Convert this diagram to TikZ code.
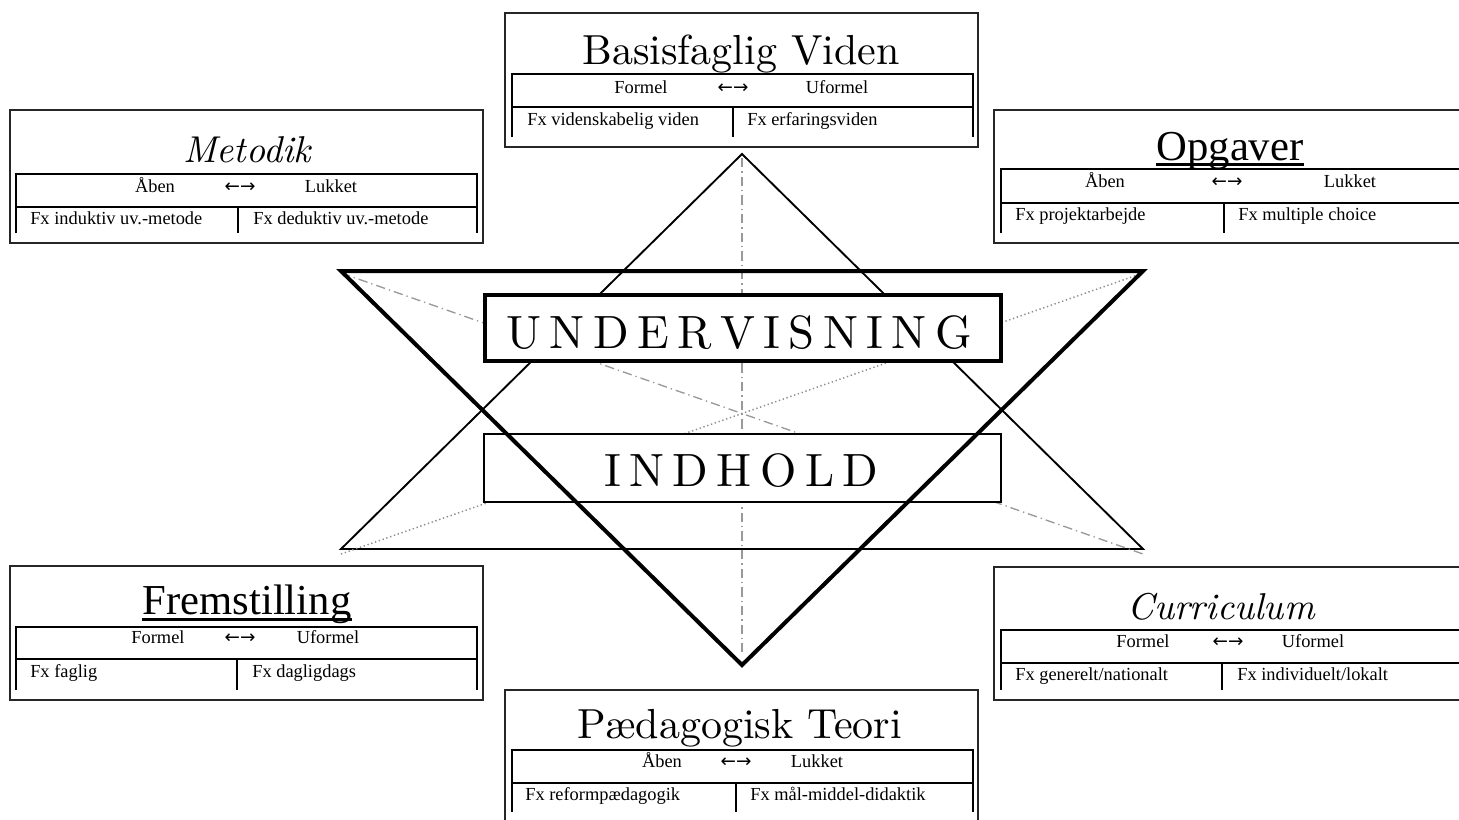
\documentclass[tikz,border=0pt]{standalone}
\usepackage{fontspec}
\newfontfamily\tnr{Liberation Serif}
\newfontfamily\arw{DejaVu Sans}
\newfontfamily\ttl[ItalicFont=lmroman10-italic.otf]{lmroman10-regular.otf}
\newcommand{\lsp}{\kern0.18em}
\usetikzlibrary{positioning}

\begin{document}
\begin{tikzpicture}[x=0.75pt,y=-0.75pt,
  frame/.style={draw=black!85,line width=1.1pt},
  tbl/.style={line width=1.5pt},
  head/.style={inner sep=0pt,anchor=base,font=\ttl\fontsize{31.5}{36}\selectfont},
  headit/.style={inner sep=0pt,anchor=base,font=\ttl\fontsize{28}{34}\selectfont\itshape},
  headtnr/.style={inner sep=0pt,anchor=base,font=\tnr\fontsize{32}{36}\selectfont},
  uline/.style={line width=1.8pt},
  cell/.style={inner sep=0pt,anchor=base,font=\tnr\fontsize{13.8}{15}\selectfont},
  arr/.style={inner sep=0pt,anchor=base,font=\arw\fontsize{13.8}{15}\selectfont},
  fx/.style={cell,anchor=base west},
  spaced/.style={inner sep=0pt,anchor=base west,font=\ttl\fontsize{35}{40}\selectfont},
  centerbox/.style={draw,fill=white,inner sep=0pt},
  dashdot/.style={draw=black!40,line width=1pt,dash pattern=on 7pt off 3pt on 1pt off 3pt},
  dotline/.style={draw=black!45,line width=1.1pt,dash pattern=on 1pt off 2pt},
]
\useasboundingbox (0,0) rectangle (1459,819);
\clip (0,0) rectangle (1459,819);

\coordinate (tl) at (341,271);
\coordinate (tr) at (1143,271);
\coordinate (bot) at (742,665);
\coordinate (top) at (742,154);
\coordinate (bl) at (341,549);
\coordinate (br) at (1143,549);
\coordinate (vt) at (742,158);
\coordinate (vb) at (742,652);
\coordinate (gtl) at (341,273);
\coordinate (gbr) at (1143,554);
\coordinate (gbl) at (341,554);
\coordinate (gtr) at (1143,273);

\draw[line width=1.4pt] (bl) -- (top) -- (br) -- cycle;
\draw[dashdot] (vt) -- (vb);
\draw[dashdot] (gtl) -- (gbr);
\draw[dotline] (gbl) -- (gtr);

\node[centerbox, line width=3pt, minimum width=387pt, minimum height=49.5pt] (undBox) at (743,328) {};
\node[spaced] (undT) at (506,348) {U\lsp N\lsp D\lsp E\lsp R\lsp V\lsp I\lsp S\lsp N\lsp I\lsp N\lsp G};
\node[centerbox, line width=1.5pt, minimum width=387.75pt, minimum height=51pt] (indBox) at (742.5,468) {};
\node[spaced] (indT) at (604,486) {I\lsp N\lsp D\lsp H\lsp O\lsp L\lsp D};

\draw[line width=3pt] (tl) -- (tr) -- (bot) -- cycle;

\draw[frame] (505,13) rectangle (978,147);
\node[head] (bvT) at (741,64) {Basisfaglig Viden};
\draw[tbl] (512,137) -- (512,74) -- (973,74) -- (973,137) (512,107) -- (973,107) (733,107) -- (733,137);
\node[cell] (bvA) at (641,93) {Formel};
\node[arr] (bvArr) at (733,93) {←→};
\node[cell] (bvB) at (837,93) {Uformel};
\node[fx] (bvC) at (527,125) {Fx videnskabelig viden};
\node[fx] (bvD) at (747,125) {Fx erfaringsviden};

\draw[frame] (10,110) rectangle (483,243);
\node[headit] (meT) at (247,162) {Metodik};
\draw[tbl] (16,233) -- (16,174) -- (477,174) -- (477,233) (16,207) -- (477,207) (238,207) -- (238,233);
\node[cell] (meA) at (155,192) {Åben};
\node[arr] (meArr) at (240,192) {←→};
\node[cell] (meB) at (331,192) {Lukket};
\node[fx] (meC) at (30,224) {Fx induktiv uv.-metode};
\node[fx] (meD) at (253,224) {Fx deduktiv uv.-metode};

\draw[frame] (994,110) rectangle (1475,243);
\node[headtnr] (opT) at (1230,160) {Opgaver};
\draw[uline] ([yshift=-3.5pt]opT.base west) -- ([yshift=-3.5pt]opT.base east);
\draw[tbl] (1001,233) -- (1001,169) -- (1475,169) (1001,203) -- (1475,203) (1224,203) -- (1224,233);
\node[cell] (opA) at (1105,187) {Åben};
\node[arr] (opArr) at (1227,187) {←→};
\node[cell] (opB) at (1350,187) {Lukket};
\node[fx] (opC) at (1015,220) {Fx projektarbejde};
\node[fx] (opD) at (1238,220) {Fx multiple choice};

\draw[frame] (10,566) rectangle (483,700);
\node[headtnr] (frT) at (247,614) {Fremstilling};
\draw[uline] ([yshift=-4pt]frT.base west) -- ([yshift=-4pt]frT.base east);
\draw[tbl] (16,690) -- (16,627) -- (477,627) -- (477,690) (16,659) -- (477,659) (237,659) -- (237,690);
\node[cell] (frA) at (158,643) {Formel};
\node[arr] (frArr) at (240,643) {←→};
\node[cell] (frB) at (328,643) {Uformel};
\node[fx] (frC) at (30,677) {Fx faglig};
\node[fx] (frD) at (252,677) {Fx dagligdags};

\draw[frame] (994,567) rectangle (1475,700);
\node[headit] (cuT) at (1221,619) {Curriculum};
\draw[tbl] (1001,690) -- (1001,630) -- (1475,630) (1001,663) -- (1475,663) (1222,663) -- (1222,690);
\node[cell] (cuA) at (1143,647) {Formel};
\node[arr] (cuArr) at (1228,647) {←→};
\node[cell] (cuB) at (1313,647) {Uformel};
\node[fx] (cuC) at (1015,680) {Fx generelt/nationalt};
\node[fx] (cuD) at (1237,680) {Fx individuelt/lokalt};

\draw[frame] (505,690) rectangle (978,830);
\node[head] (ptT) at (740,738) {Pædagogisk Teori};
\draw[tbl] (512,812) -- (512,750) -- (973,750) -- (973,812) (512,783) -- (973,783) (736,783) -- (736,812);
\node[cell] (ptA) at (662,767) {Åben};
\node[arr] (ptArr) at (736,767) {←→};
\node[cell] (ptB) at (817,767) {Lukket};
\node[fx] (ptC) at (525,800) {Fx reformpædagogik};
\node[fx] (ptD) at (750,800) {Fx mål-middel-didaktik};
\end{tikzpicture}
\end{document}
